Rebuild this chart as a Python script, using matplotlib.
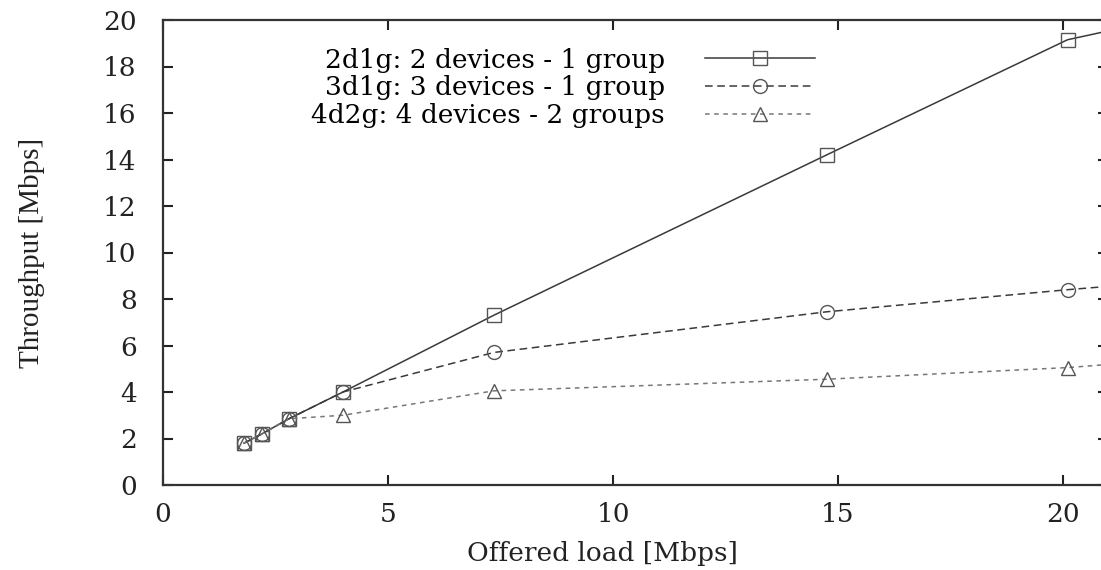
import numpy as np
import matplotlib
matplotlib.use('Agg')
import matplotlib.pyplot as plt

plt.rcParams['font.family'] = ['DejaVu Serif']

# offered load [Mbps]; the last point sits just past the visible right edge
offered = [1.8, 2.2, 2.8, 4.0, 7.35, 14.75, 20.1, 22.0]
tp_2d1g = [1.8, 2.2, 2.85, 4.0, 7.3, 14.2, 19.15, 19.95]
tp_3d1g = [1.8, 2.2, 2.85, 4.0, 5.7, 7.45, 8.4, 8.7]
tp_4d2g = [1.8, 2.2, 2.85, 3.0, 4.05, 4.55, 5.05, 5.33]

labels = ['2d1g: 2 devices - 1 group',
          '3d1g: 3 devices - 1 group',
          '4d2g: 4 devices - 2 groups']
xticks = [0, 5, 10, 15, 20]
yticks = [0, 2, 4, 6, 8, 10, 12, 14, 16, 18, 20]

fig = plt.figure(figsize=(11.01, 5.70), dpi=100)
ax = fig.add_axes([163/1101, 85/570, 945/1101, 465/570])

ax.plot(offered, tp_2d1g, color='#3a3a3a', lw=1.1, ls='-', marker='s', ms=10,
        mfc='none', mec='#555555', mew=1.0, label=labels[0])
ax.plot(offered, tp_3d1g, color='#3a3a3a', lw=1.1, ls=(0, (5, 3)), marker='o', ms=10,
        mfc='none', mec='#555555', mew=1.0, label=labels[1])
ax.plot(offered, tp_4d2g, color='#777777', lw=1.1, ls=(0, (3, 3)), marker='^', ms=10,
        mfc='none', mec='#555555', mew=1.0, label=labels[2])

ax.set_xlim(0, 21)
ax.set_ylim(0, 20)
ax.set_xticks(xticks)
ax.set_yticks(yticks)
ax.tick_params(direction='in', length=7, width=1.5, top=True, right=True,
               labelsize=19, colors='#222222')
ax.tick_params(axis='x', pad=12)
ax.tick_params(axis='y', pad=19)
for s in ax.spines.values():
    s.set_linewidth(1.6)
    s.set_color('#333333')

ax.set_xlabel('Offered load [Mbps]', fontsize=19, color='#222222')
ax.xaxis.set_label_coords(0.465, -0.121)
ax.set_ylabel('Throughput [Mbps]', fontsize=21, color='#222222',
              family='Liberation Serif')
ax.yaxis.set_label_coords(-0.125, 0.5)

leg = ax.legend(loc='upper right', bbox_to_anchor=(826/1101, 1 - 37/570),
                bbox_transform=fig.transFigure, borderaxespad=0, frameon=False,
                markerfirst=False, fontsize=19, handlelength=4.2,
                labelspacing=0.1, handletextpad=1.5)

fig.savefig('out.png', dpi=100)
